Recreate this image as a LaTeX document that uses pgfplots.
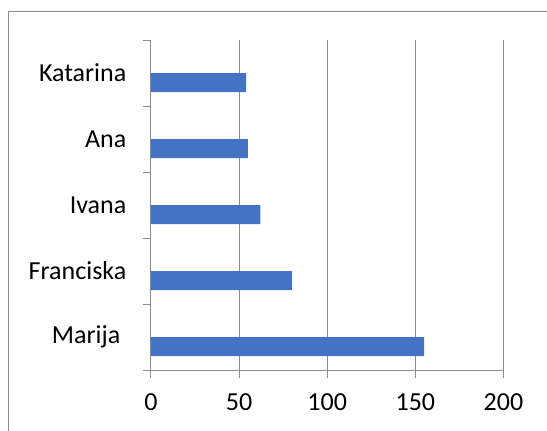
\documentclass[border=0pt]{standalone}
\usepackage{fontspec}
\setmainfont{Carlito}
\usepackage{pgfplots}
\pgfplotsset{compat=1.18}
\definecolor{barblue}{HTML}{4472C4}
\definecolor{gridgray}{RGB}{140,140,140}
\begin{document}
\begin{tikzpicture}[x=1pt,y=1pt]
\useasboundingbox (0,0) rectangle (410.25,322.5);
\draw[gridgray, line width=0.75pt] (6,-5) -- (6,314.25) -- (420,314.25);
\begin{axis}[
 at={(113.25pt,45pt)}, anchor=south west,
 scale only axis, width=264.375pt, height=247.5pt,
 xmin=0, xmax=200, ymin=-0.5, ymax=4.5,
 axis x line*=bottom, axis y line*=left,
 axis line style={draw=gridgray, line width=0.75pt, -},
 xtick={0,50,100,150,200},
 xmajorgrids, major grid style={draw=gridgray, line width=0.75pt},
 ytick={-0.5,0.5,1.5,2.5,3.5,4.5}, yticklabels={},
 extra y ticks={0,1,2,3,4},
 extra y tick labels={{Marija\kern4.5pt},Franciska,Ivana,Ana,Katarina},
 extra y tick style={major tick length=0pt, ymajorgrids=false, yticklabel style={xshift=-15pt}},
 tick align=outside, major tick length=6pt,
 tick style={draw=gridgray, line width=0.75pt},
 tick label style={font=\fontsize{19.5}{23}\selectfont, text=black},
 xticklabel style={yshift=-8.5pt},
 /pgf/number format/assume math mode=true,
 xbar, bar width=14.25pt, bar shift=-7.125pt,
 clip=false,
]
\addplot[fill=barblue, draw=none] coordinates {(155,0) (80,1) (62,2) (55,3) (54,4)};
\end{axis}
\end{tikzpicture}
\end{document}
